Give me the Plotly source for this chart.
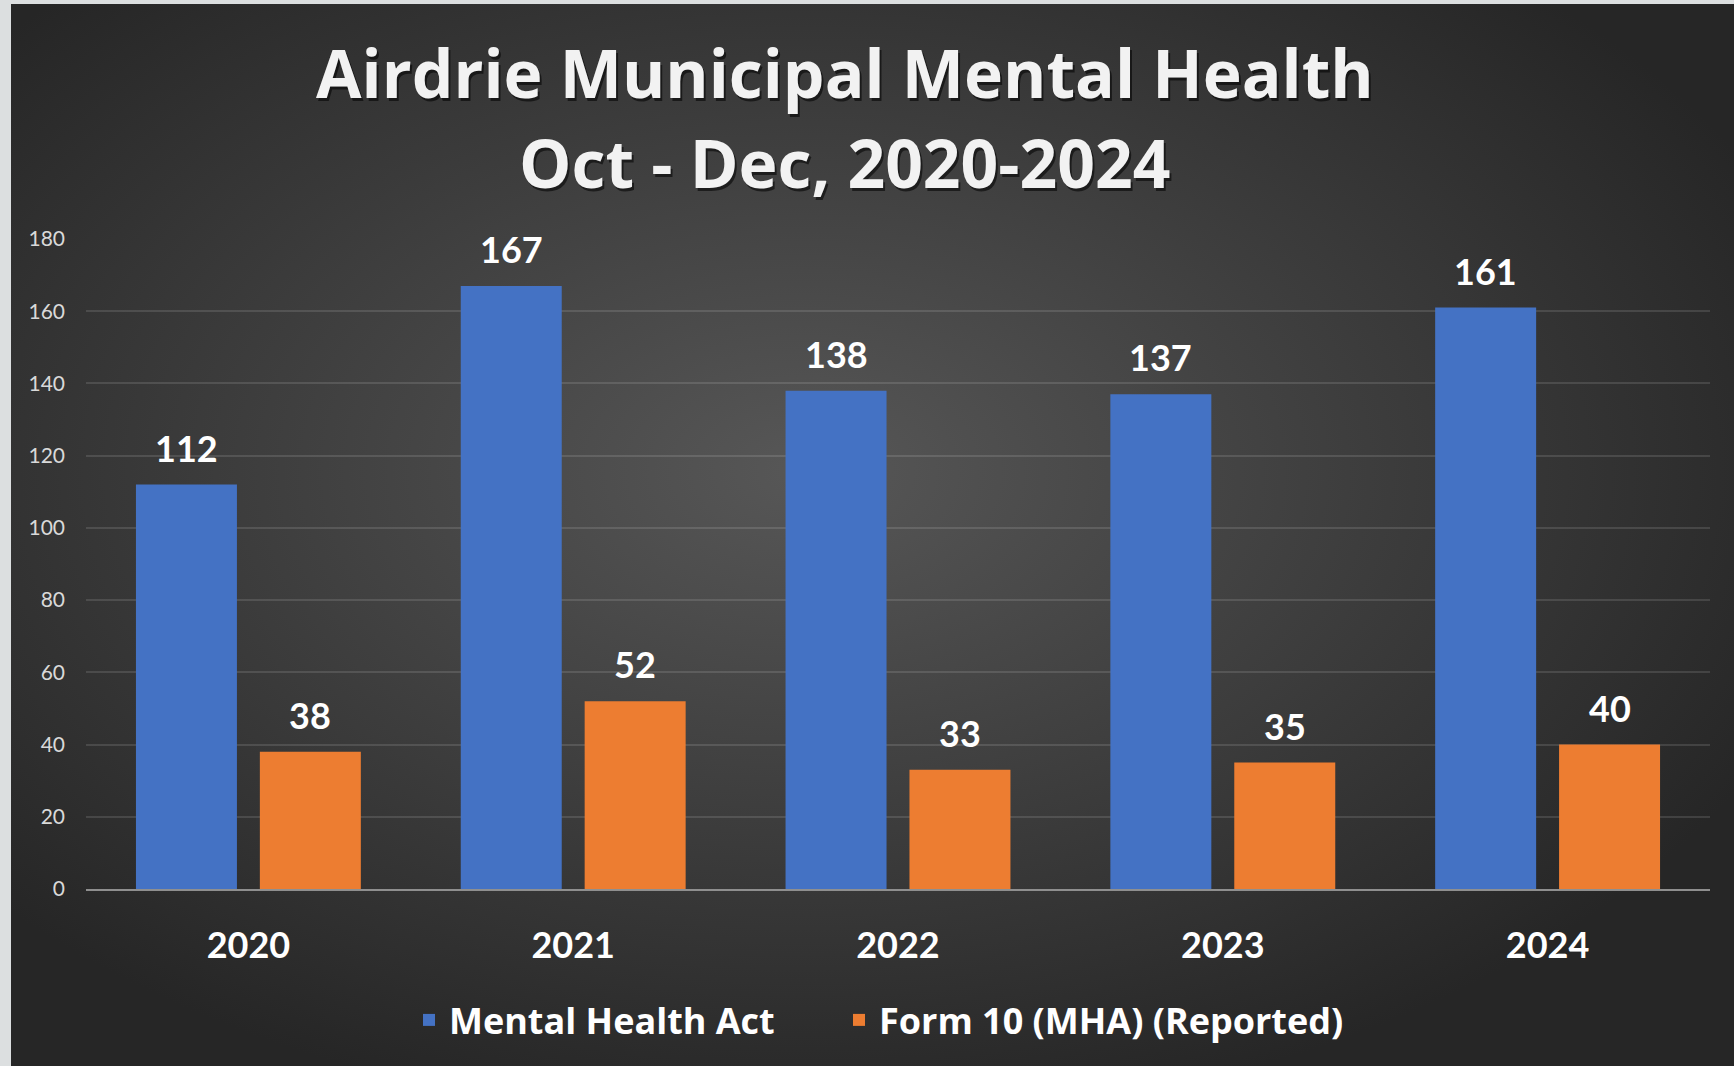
import base64
import plotly.graph_objects as go

# ---- data ----
years = ["2020", "2021", "2022", "2023", "2024"]
mental_health_act = [112, 167, 138, 137, 161]
form10_reported = [38, 52, 33, 35, 40]
y_tick_vals = [0, 20, 40, 60, 80, 100, 120, 140, 160, 180]
series_names = ["Mental Health Act", "Form 10 (MHA) (Reported)"]
title_lines = ["Airdrie Municipal Mental Health", "Oct - Dec, 2020-2024"]

# ---- layout constants ----
W, H = 1734, 1066
ML, MR, MT, MB = 86, 24, 239, 177
PW, PH = W - ML - MR, H - MT - MB
BARGAP = 0.237
BARGROUPGAP = 0.185
BLUE = "#4472C4"
ORANGE = "#ED7D31"
FONT = "Lato"
TITLE_FONT = "Open Sans"

# background: light frame strip + dark radial gradient
svg = f'''<svg xmlns="http://www.w3.org/2000/svg" width="{W}" height="{H}" viewBox="0 0 {W} {H}">
<defs><radialGradient id="g" cx="0.46" cy="0.44" r="0.62" gradientUnits="objectBoundingBox">
<stop offset="0" stop-color="#575757"/><stop offset="0.55" stop-color="#3c3c3c"/><stop offset="1" stop-color="#262626"/>
</radialGradient></defs>
<rect x="0" y="0" width="{W}" height="{H}" fill="#dcdfe0"/>
<rect x="11" y="4" width="{W-11}" height="{H-4}" fill="url(#g)"/>
</svg>'''
bg_src = "data:image/svg+xml;base64," + base64.b64encode(svg.encode()).decode()

fig = go.Figure()
fig.add_trace(go.Bar(x=years, y=mental_health_act, name=series_names[0], legend="legend",
                     marker=dict(color=BLUE, line=dict(width=0))))
fig.add_trace(go.Bar(x=years, y=form10_reported, name=series_names[1], legend="legend2",
                     marker=dict(color=ORANGE, line=dict(width=0))))

# data labels above bars (offsets derived from bar layout params)
slot = (1 - BARGAP) / 2
annotations = []
for k, vals in enumerate([mental_health_act, form10_reported]):
    off = (k - 0.5) * slot
    for i, v in enumerate(vals):
        annotations.append(dict(
            x=i + off, y=v, xref="x", yref="y", text=str(v), showarrow=False,
            yanchor="bottom", yshift=13,
            font=dict(family=FONT, size=36, color="white", weight="bold")))

# title (two lines with soft shadow)
title_x = (845 - ML) / PW
title_y = [1 + (MT - 72) / PH, 1 + (MT - 162) / PH]
for line, ty in zip(title_lines, title_y):
    annotations.append(dict(x=title_x, y=ty, xref="paper", yref="paper", text=line,
                            showarrow=False, xanchor="center", yanchor="middle",
                            xshift=2, yshift=-3,
                            font=dict(family=TITLE_FONT, size=66, color="rgba(0,0,0,0.55)", weight="bold")))
    annotations.append(dict(x=title_x, y=ty, xref="paper", yref="paper", text=line,
                            showarrow=False, xanchor="center", yanchor="middle",
                            font=dict(family=TITLE_FONT, size=66, color="#f2f2f2", weight="bold")))

legend_font = dict(family=TITLE_FONT, size=36, color="white", weight="bold")
legend_y = 1 - (1020 - MT) / PH

fig.update_layout(
    width=W, height=H,
    margin=dict(l=ML, r=MR, t=MT, b=MB, pad=0),
    paper_bgcolor="#2b2b2b",
    plot_bgcolor="rgba(0,0,0,0)",
    barmode="group", bargap=BARGAP, bargroupgap=BARGROUPGAP,
    showlegend=True,
    legend=dict(orientation="h", x=(409 - ML) / PW, xanchor="left",
                y=legend_y, yanchor="middle",
                bgcolor="rgba(0,0,0,0)", font=legend_font),
    legend2=dict(orientation="h", x=(839 - ML) / PW, xanchor="left",
                 y=legend_y, yanchor="middle",
                 bgcolor="rgba(0,0,0,0)", font=legend_font),
    images=[dict(source=bg_src, xref="paper", yref="paper",
                 x=-ML / PW, y=1 + MT / PH, sizex=W / PW, sizey=H / PH,
                 xanchor="left", yanchor="top", sizing="stretch", layer="below")],
    annotations=annotations,
    xaxis=dict(showgrid=False, showline=True, linecolor="#8f8f8f", linewidth=2,
               ticks="", ticklabelstandoff=24,
               tickfont=dict(family=FONT, size=36, color="white", weight="bold")),
    yaxis=dict(range=[0, 180], tickvals=y_tick_vals, showgrid=True,
               gridcolor="rgba(255,255,255,0.12)", gridwidth=1.5,
               zeroline=False, ticks="", ticklabelstandoff=20,
               tickfont=dict(family=FONT, size=21, color="#d9d9d9")),
)

fig.write_html("out.html", config={"displayModeBar": False},
               post_script="document.body.style.margin='0';document.body.style.overflow='hidden';")
